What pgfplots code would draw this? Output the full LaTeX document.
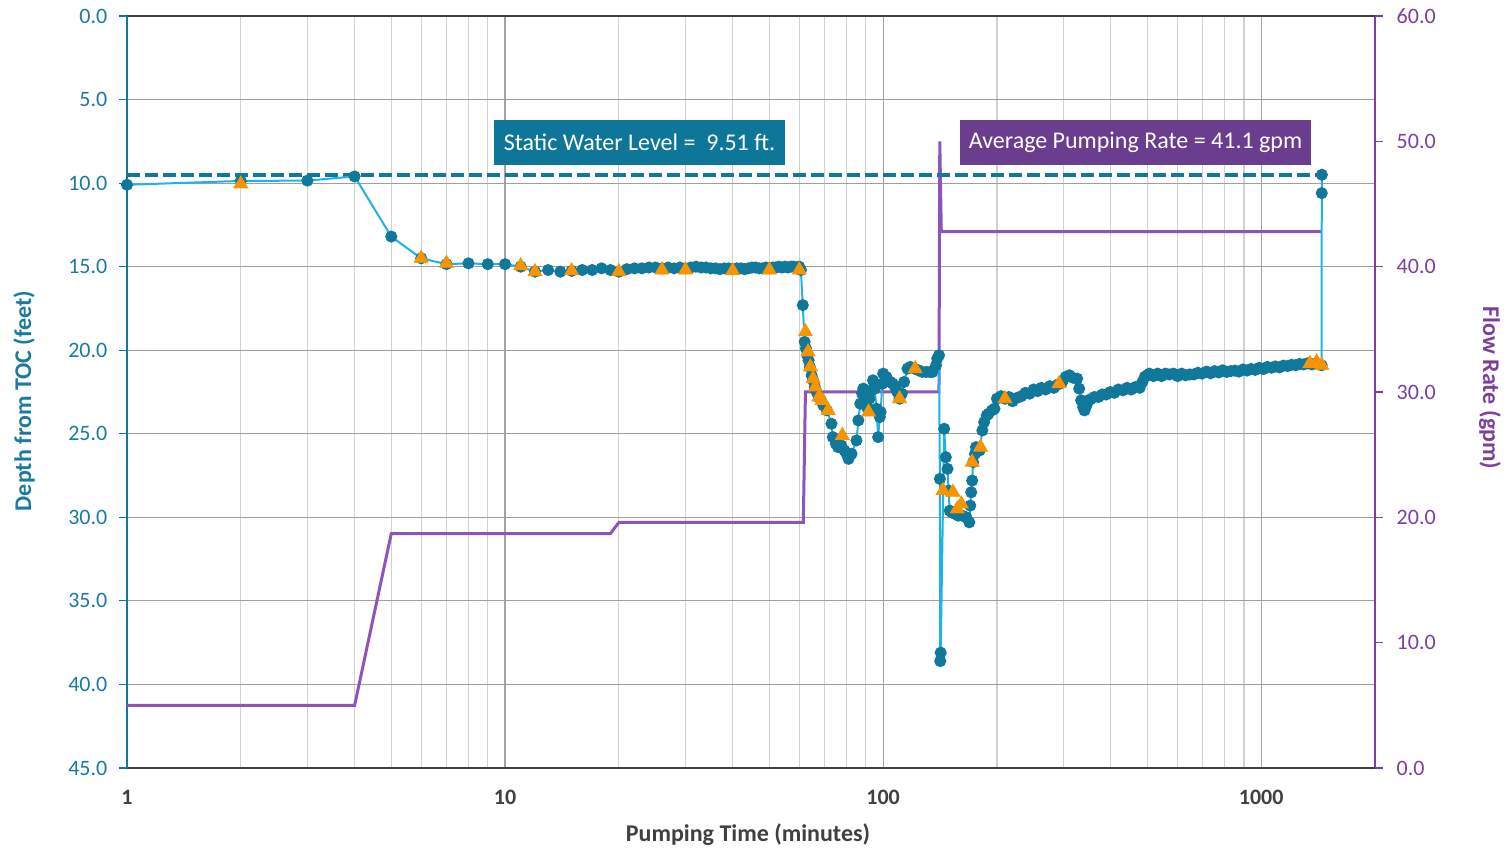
\documentclass[border=0pt]{standalone}
\usepackage{pgfplots}
\pgfplotsset{compat=1.18}
\usepackage{fontspec}
\setmainfont{Carlito}
\definecolor{tealdark}{RGB}{16,120,155}
\definecolor{tealtxt}{RGB}{26,122,160}
\definecolor{lineblue}{RGB}{30,178,232}
\definecolor{orangeT}{RGB}{247,148,0}
\definecolor{purpleL}{RGB}{142,85,185}
\definecolor{purpleax}{RGB}{123,63,158}
\definecolor{purplebox}{RGB}{106,61,143}
\definecolor{tealbox}{RGB}{14,119,153}
\definecolor{axisgray}{RGB}{64,64,64}
\begin{document}
\fontsize{11}{13}\selectfont
\begin{tikzpicture}
% ---------- flow rate axis (right) ----------
\begin{axis}[
  set layers, scale only axis, width=624pt, height=376pt,
  at={(0,0)}, anchor=south west,
  xmode=log, xmin=1, xmax=2000, ymin=0, ymax=60,
  axis y line*=right, axis x line=none,
  ytick={0,10,...,60}, yticklabels={0.0,10.0,20.0,30.0,40.0,50.0,60.0},
  y axis line style={draw=purpleax, line width=0.8pt},
  ytick style={draw=purpleax, line width=0.6pt},
  tick align=outside, major tick length=4pt,
  yticklabel style={text=purpleax, font=\fontsize{11}{13}\selectfont},
  yticklabel shift=3pt,
  /pgf/number format/assume math mode=true,
  clip=false,
]
\addplot[purpleL, line width=1.5pt] coordinates {
(1,5.0)(4,5.0)(5,18.7)(19,18.7)(20,19.6)(61.5,19.6)(62.3,30.0)(140.5,30.0)(141.2,50.0)(142.5,42.8)(1446,42.8)
};
\end{axis}
% ---------- depth axis (left) ----------
\begin{axis}[
  set layers, scale only axis, width=624pt, height=376pt,
  at={(0,0)}, anchor=south west,
  xmode=log, xmin=1, xmax=2000, ymin=0, ymax=45, y dir=reverse,
  axis y line*=left, axis x line*=box,
  xtick={1,10,100,1000}, xticklabels={1,10,100,1000},
  minor xtick={2,3,4,5,6,7,8,9,20,30,40,50,60,70,80,90,200,300,400,500,600,700,800,900},
  xtick style={draw=none}, minor tick style={draw=none},
  ytick={0,5,...,45}, yticklabels={0.0,5.0,10.0,15.0,20.0,25.0,30.0,35.0,40.0,45.0},
  ytick style={draw=tealdark, line width=0.6pt},
  tick align=outside, major tick length=4pt,
  xmajorgrids, xminorgrids, ymajorgrids,
  major x grid style={draw=black!36, line width=0.6pt},
  minor x grid style={draw=black!18, line width=0.6pt},
  major y grid style={draw=black!38, line width=0.6pt},
  x axis line style={draw=axisgray, line width=0.6pt},
  y axis line style={draw=tealdark, line width=0.8pt},
  xticklabel style={text=axisgray, font=\fontsize{11}{13}\selectfont\bfseries},
  xticklabel shift=3pt,
  yticklabel style={text=tealtxt, font=\fontsize{11}{13}\selectfont},
  yticklabel shift=2pt,
  /pgf/number format/assume math mode=true,
  clip=false,
]
\addplot[tealdark, line width=2pt, dash pattern=on 6.5pt off 2.5pt] coordinates {(1,9.51)(1446,9.51)};
\addplot[lineblue, line width=1pt, mark=*, mark size=2.5pt, mark options={solid, fill=tealdark, draw=tealdark}] coordinates {
(1,10.1)(2,9.87)(3,9.85)(4,9.6)(5,13.2)(6,14.5)(7,14.85)(8,14.8)(9,14.85)(10,14.85)
(11,15.0)(12,15.3)(13,15.2)(14,15.3)(15,15.25)(16,15.2)(17,15.2)(18,15.1)(19,15.2)(20,15.3)
(21,15.15)(22,15.1)(23,15.1)(24,15.05)(25,15.05)(26,15.1)(27,15.05)(28,15.1)(29,15.05)(30,15.1)
(31,15.05)(32,15.0)(33,15.05)(34,15.05)(35,15.1)(36,15.1)(37,15.15)(38,15.1)(39,15.1)(40,15.15)
(41,15.1)(42,15.1)(43,15.15)(44,15.1)(45,15.05)(46,15.05)(47,15.1)(48,15.1)(49,15.05)(50,15.1)
(51,15.05)(52,15.05)(53,15.0)(54,15.05)(55,15.0)(56,15.05)(57,15.0)(58,15.0)(59,15.05)(60,15.0)
(60.6,15.2)(61.3,17.3)(62,19.5)(62.5,19.9)(63,20.3)(63.5,20.6)(64,21.0)(64.7,21.5)(65.3,21.8)(66,22.2)
(66.7,22.5)(67.6,22.8)(68.5,23.0)(69.5,23.3)(71,23.6)(73,24.4)(73.6,25.2)(75,25.6)(76,25.8)(77.5,25.7)
(79,26.0)(80,26.2)(81,26.5)(82.5,26.2)(85,25.4)(86,24.2)(87,23.2)(88,22.6)(88.6,22.3)(89.5,22.5)
(90,23.2)(91,23.5)(92,22.9)(93,22.4)(94,21.8)(95,22.3)(96,23.5)(97,25.2)(98,24.0)(98.5,23.7)
(99.5,22.0)(100,21.4)(102,21.6)(104.5,21.9)(106,22.0)(107.6,22.2)(109,22.5)(110.5,22.9)(112,22.6)(113.6,21.9)
(116,21.1)(118,21.0)(121,21.1)(124,21.2)(127,21.3)(130,21.3)(133,21.3)(135,21.3)(138,20.9)(139,20.5)
(140.5,20.3)(141.3,27.7)(141.6,38.6)(142,38.1)(145,24.7)(146.5,26.4)(148,27.1)(149,28.4)(150,29.6)(152,29.7)
(155,29.8)(158,29.9)(162,29.9)(166,30.0)(169,30.3)(170,29.3)(171,28.5)(172,27.8)(173,26.7)(175,26.2)
(176,25.8)(178,25.9)(180,26.0)(183,24.8)(185,24.3)(188,23.9)(190,23.8)(194,23.6)(197,23.5)(200,22.9)
(205,22.75)(210,22.9)(215,22.8)(220,23.05)(226,22.85)(232,22.75)(238,22.55)(244,22.6)(250,22.35)(256,22.45)
(262,22.25)(269,22.35)(276,22.15)(283,22.25)(290,22.05)(297,21.95)(304,21.6)(311,21.5)(318,21.65)(326,21.7)
(330,22.3)(334,23.0)(338,23.4)(341,23.6)(345,23.3)(349,23.0)(353,22.95)(362,22.8)(371,22.8)(380,22.65)
(389,22.65)(399,22.5)(409,22.55)(419,22.35)(431,22.4)(442,22.25)(453,22.35)(465,22.2)(477,22.25)(485,21.9)
(492,21.6)(499,21.5)(506,21.4)(519,21.55)(532,21.4)(545,21.55)(558,21.4)(572,21.45)(586,21.4)(601,21.55)
(616,21.4)(631,21.5)(647,21.45)(663,21.45)(680,21.35)(697,21.4)(717,21.28)(735,21.38)(753,21.25)(772,21.33)
(791,21.2)(811,21.3)(831,21.25)(852,21.22)(873,21.28)(895,21.15)(917,21.22)(940,21.12)(964,21.18)(988,21.05)
(1013,21.13)(1038,21.0)(1064,21.05)(1090,20.97)(1117,21.03)(1145,20.92)(1174,20.95)(1203,20.87)(1233,20.9)(1264,20.82)
(1296,20.85)(1328,20.78)(1361,20.85)(1395,20.78)(1420,20.85)(1445,20.9)(1446,10.6)(1447,9.5)
};
\addplot[only marks, mark=triangle*, mark size=4pt, mark options={fill=orangeT, draw=orangeT}] coordinates {
(2,10.05)(6,14.5)(7,14.8)(11,14.95)(12,15.3)(15,15.25)(20,15.3)(26,15.2)(30,15.2)(40,15.25)
(50,15.2)(60,15.2)(62.3,18.9)(63.3,20.1)(64.2,21.0)(65.3,21.7)(66.2,22.2)(67.6,22.8)(69,23.0)(71.5,23.6)
(78,25.1)(91.5,23.7)(110.5,22.9)(121.5,21.1)(144,28.4)(153,28.5)(157,29.5)(161,29.2)(172,26.7)(181,25.8)
(210,22.9)(292,22.0)(1345,20.8)(1402,20.7)(1446,20.9)
};
\end{axis}
% ---------- annotations and titles ----------
\node[fill=tealbox, text=white, minimum width=145.5pt, minimum height=22.5pt, inner sep=0pt, font=\fontsize{12}{14}\selectfont] at (256.25pt,312.75pt) {Static Water Level =\ \ 9.51 ft.};
\node[fill=purplebox, text=white, minimum width=175.5pt, minimum height=22.5pt, inner sep=0pt, font=\fontsize{12}{14}\selectfont] at (504.25pt,312.75pt) {Average Pumping Rate = 41.1 gpm};
\node[text=axisgray, font=\fontsize{12}{14}\selectfont\bfseries] at (310.5pt,-33.5pt) {Pumping Time (minutes)};
\node[text=tealtxt, rotate=90, font=\fontsize{12}{14}\selectfont\bfseries] at (-51.5pt,183.5pt) {Depth from TOC (feet)};
\node[text=purpleax, rotate=-90, font=\fontsize{12}{14}\selectfont\bfseries] at (681.5pt,190pt) {Flow Rate (gpm)};
\pgfresetboundingbox
\useasboundingbox (-63.5pt,-41.5pt) rectangle (692pt,384pt);
\end{tikzpicture}
\end{document}
